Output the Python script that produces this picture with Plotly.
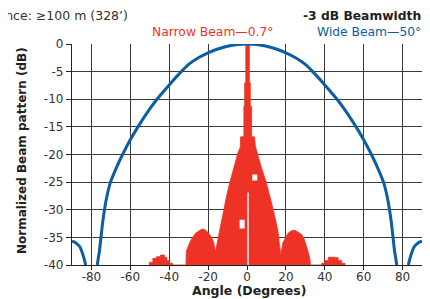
import plotly.graph_objects as go

# ---- data ----
wide_angle = [-90, -88, -86, -84.5, -83.5, -83.0, None,
              -77.0, -76.6, -75.9, -75.1, -74.3, -73.3, -72.0, -70.2, -67.3, -64.0, -60.3, -56.1, -51.5, -46.3, -40, -33.8,
              -30, -25, -20, -15, -10, -5, 0,
              5, 10, 15, 20, 25, 30,
              33.8, 40, 46.3, 51.5, 56.1, 60.3, 64.0, 67.3, 70.2, 72.0, 73.3, 74.3, 75.1, 75.9, 76.6, 77.0, None,
              83.0, 83.5, 84.5, 86, 88, 90]
wide_db = [-35.7, -36.0, -36.7, -38.0, -39.2, -40, None,
           -40, -39, -37.5, -35, -32.5, -30, -27.5, -25, -22.5, -20, -17.5, -15, -12.5, -10, -7.4, -5,
           -3.7, -2.5, -1.6, -0.9, -0.4, -0.1, 0,
           -0.1, -0.4, -0.9, -1.6, -2.5, -3.7,
           -5, -7.4, -10, -12.5, -15, -17.5, -20, -22.5, -25, -27.5, -30, -32.5, -35, -37.5, -39, -40, None,
           -40, -39.2, -38.0, -36.7, -36.0, -35.7]

narrow_angle = [-50.2, -50.2, -48.4, -48.4, -46.5, -46.5, -44.5, -44.5, -42.4, -42.4, -41.2, -41.2, -39.8, -39.8, -38.3, -38.3,
                -31.4, -31.2, -30.2, -29.0, -27.6, -26.3, -25.0, -23.7, -22.5, -21.2, -19.9, -18.6, -17.3, -16.6, -16.3,
                -16.0, -15.2, -14.2, -13.2, -12.2, -10.5, -8.8, -6.5, -4.5, -3.8, -3.4, -3.3, -1.6, -1.6, -1.2, -1.2, -0.6, -0.6,
                1.2, 1.2, 1.7, 1.7, 2.4, 2.4, 3.9, 4.3, 4.7, 5.5, 7.5, 9.9, 11.8, 13.5, 15.0, 16.1, 16.6, 17.0, 17.4,
                18.4, 19.6, 21.0, 22.4, 23.8, 25.2, 26.6, 28.1, 29.4, 30.7, 31.6, 32.4, 32.6,
                38.4, 38.4, 40.0, 40.0, 41.8, 41.8, 45.2, 45.2, 46.9, 46.9, 48.7, 48.7, 50.4, 50.4]
narrow_db = [-40, -39.5, -39.5, -38.8, -38.8, -38.5, -38.5, -38.2, -38.2, -38.6, -38.6, -39.2, -39.2, -39.7, -39.7, -40,
             -40, -37.5, -36.6, -35.6, -34.8, -34.2, -33.9, -33.6, -33.5, -33.7, -34.2, -34.8, -35.7, -37.2, -37.5,
             -37.2, -35.8, -34.2, -32.0, -30.0, -27.5, -25.0, -22.0, -19.5, -19.0, -18.5, -16.8, -16.8, -11.3, -11.3, -7.0, -7.0, 0,
             0, -7.0, -7.0, -11.3, -11.3, -16.8, -16.8, -18.5, -19.0, -20.0, -22.5, -25.0, -27.5, -30.0, -32.3, -34.2, -36.0, -37.2, -38.2,
             -36.0, -35.1, -34.3, -33.9, -33.7, -33.8, -34.1, -34.5, -35.3, -36.6, -37.8, -39.0, -40,
             -40, -39.7, -39.7, -39.2, -39.2, -38.6, -38.6, -38.7, -38.7, -39.2, -39.2, -39.7, -39.7, -40]

# small nulls (white gaps) inside the narrow-beam pattern
gap_angle = [0.2, 0.2, 0.9, 0.9, None, 2.7, 2.7, 5.3, 5.3, None, -3.8, -3.8, -1.2, -1.2]
gap_db = [-40, -26.9, -26.9, -40, None, -24.7, -23.6, -23.6, -24.7, None, -33.4, -31.8, -31.8, -33.4]

x_ticks = [-80, -60, -40, -20, 0, 20, 40, 60, 80]
y_ticks = [0, -5, -10, -15, -20, -25, -30, -35, -40]

RED = "#EE3326"
BLUE = "#0B5EA3"
FONT = "DejaVu Sans"

fig = go.Figure()
fig.add_trace(go.Scatter(x=narrow_angle, y=narrow_db, mode="lines", fill="toself",
                         fillcolor=RED, line=dict(color=RED, width=0.8), hoverinfo="skip"))
fig.add_trace(go.Scatter(x=gap_angle, y=gap_db, mode="lines", fill="toself",
                         fillcolor="white", line=dict(color="white", width=0), hoverinfo="skip"))
fig.add_trace(go.Scatter(x=wide_angle, y=wide_db, mode="lines",
                         line=dict(color=BLUE, width=3, shape="spline", smoothing=0.5),
                         connectgaps=False, cliponaxis=False, hoverinfo="skip"))

grid = dict(showgrid=True, gridcolor="#3a3a3a", gridwidth=1.3)
fig.update_xaxes(range=[-90, 90], tickvals=x_ticks, ticktext=[str(v) for v in x_ticks], automargin=False,
                 ticks="outside", ticklen=4, tickcolor="#222", showline=True, linecolor="#222", linewidth=1.3,
                 ticklabelstandoff=-4,
                 zeroline=False, tickfont=dict(family=FONT, size=12, color="#333"), **grid)
fig.update_yaxes(range=[-40, 0], tickvals=y_ticks, ticktext=[str(v) for v in y_ticks], automargin=False,
                 ticks="outside", ticklen=5, tickcolor="#222", showline=True, linecolor="#222", linewidth=1.3,
                 zeroline=False, tickfont=dict(family=FONT, size=12, color="#333"), **grid)

# the page body has an 8 px margin, so the figure is drawn 8 px smaller and offset
OFF = 8
W, H = 430 - OFF, 299 - OFF
L, R, T, B = 72 - OFF, 8, 44 - OFF, 34
pw, ph = W - L - R, H - T - B
def px(x):
    return (x - OFF - L) / pw
def py(y):
    return (H - B - (y - OFF)) / ph

annos = [
    dict(text="Distance: ≥100 m (328’)", x=px(130), y=py(15), xanchor="right", yanchor="middle",
         font=dict(family=FONT, size=12.5, color="#333")),
    dict(text="<b>-3 dB Beamwidth</b>", x=px(423), y=py(16), xanchor="right", yanchor="middle",
         font=dict(family=FONT, size=12.3, color="#222")),
    dict(text="Narrow Beam—0.7°", x=px(150), y=py(32), xanchor="left", yanchor="middle",
         font=dict(family=FONT, size=12.3, color=RED)),
    dict(text="Wide Beam—50°", x=px(423), y=py(32), xanchor="right", yanchor="middle",
         font=dict(family=FONT, size=12.3, color=BLUE)),
    dict(text="<b>Angle (Degrees)</b>", x=px(249), y=py(290), xanchor="center", yanchor="middle",
         font=dict(family=FONT, size=12.5, color="#222")),
    dict(text="<b>Normalized Beam pattern (dB)</b>", x=px(22), y=py(151), xanchor="center", yanchor="middle",
         textangle=-90, font=dict(family=FONT, size=12, color="#222")),
]
for a in annos:
    a.update(xref="paper", yref="paper", showarrow=False)

fig.update_layout(width=W, height=H, margin=dict(l=L, r=R, t=T, b=B, autoexpand=False), showlegend=False,
                  plot_bgcolor="white", paper_bgcolor="white", annotations=annos)

fig.write_html("out.html")
